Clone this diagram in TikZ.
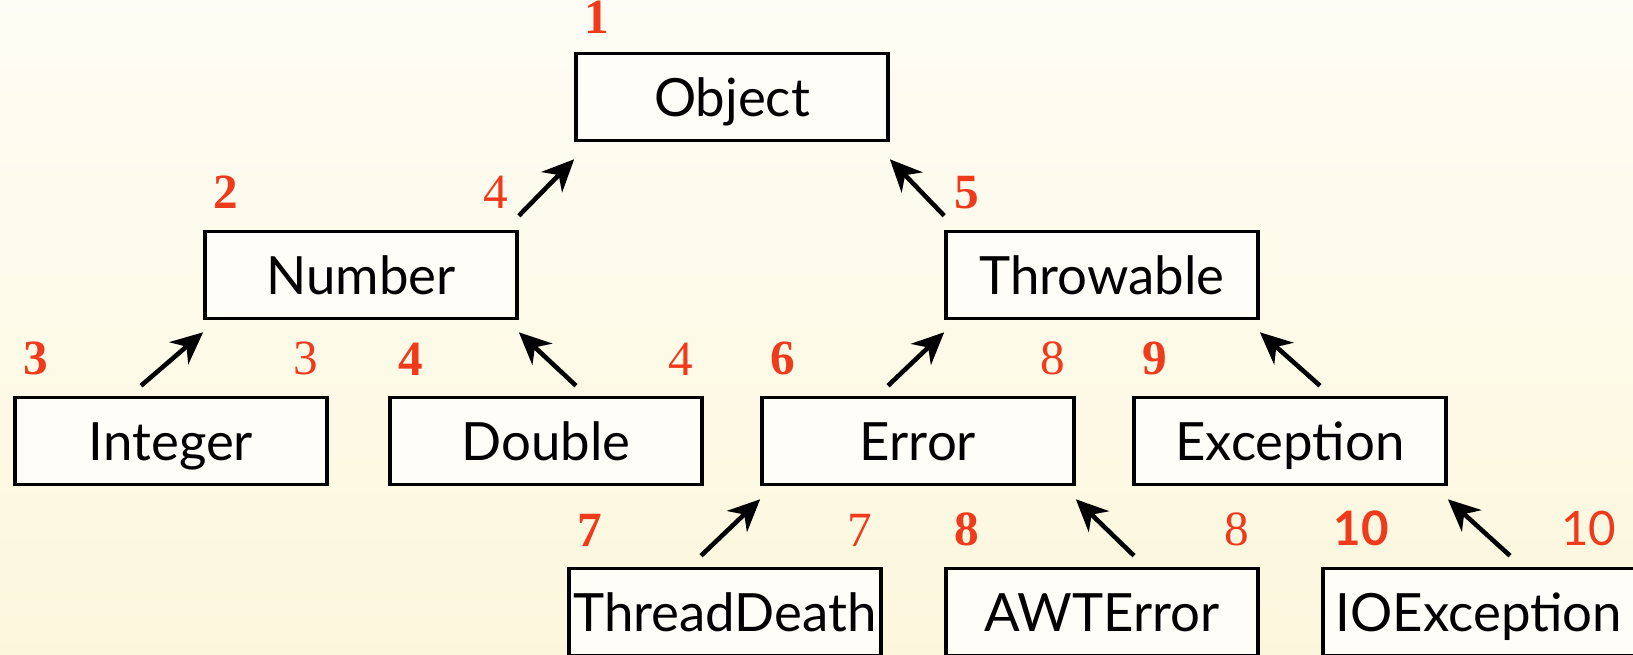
\documentclass[tikz,border=0pt]{standalone}
\usepackage{fontspec}
\setsansfont{Lato}
\newfontfamily\numfont{Liberation Serif}
\usepackage{tikz}
\usetikzlibrary{arrows.meta,positioning,calc}
\definecolor{MarkRed}{RGB}{240,58,28}
\definecolor{PaperTop}{RGB}{254,253,245}
\definecolor{PaperBottom}{RGB}{252,247,220}
\definecolor{BoxCream}{RGB}{255,253,248}

\begin{document}
\begin{tikzpicture}[x=0.01cm, y=-0.01cm,
    cls/.style={draw=black, line width=1pt, fill=BoxCream, minimum width=3.12cm, minimum height=0.87cm, inner sep=0pt, text height=0.5cm, text depth=0.12cm, font=\sffamily\fontsize{15}{18}\selectfont},
    up/.style={draw=black, line width=1.3pt, -{Stealth[length=3.2mm, width=2.9mm, inset=1mm]}},
    lnum/.style={text=MarkRed, inner sep=0pt, font=\numfont\bfseries\fontsize{14}{16}\selectfont},
    rnum/.style={text=MarkRed, inner sep=0pt, font=\numfont\fontsize{14}{16}\selectfont}
]
\useasboundingbox (0,0) rectangle (1633,655);
\fill[top color=PaperTop, bottom color=PaperBottom] (0,0) rectangle (1633,655);

% class boxes
\node[cls] (Object) at (732,97) {Object};
\node[cls] (Number) at (361,275) {Number};
\node[cls] (Throwable) at (1102,275) {Throwable};
\node[cls] (Integer) at (171,441) {Integer};
\node[cls] (Double) at (546,441) {Double};
\node[cls] (Error) at (918,441) {Error};
\node[cls] (Exception) at (1290,441) {Exception};
\node[cls] (ThreadDeath) at (725,612) {ThreadDeath};
\node[cls] (AWTError) at (1102,612) {AWTError};
\node[cls] (IOException) at (1479,612) {IOException};

% numbers
\node[lnum, above right=0.17cm and 0.1cm of Object.north west] (o1) {1};
\node[lnum, above right=0.2cm and 0.1cm of Number.north west] (n2) {2};
\node[rnum, above left=0.2cm and 0.1cm of Number.north east] (n4) {4};
\node[lnum, above right=0.2cm and 0.1cm of Throwable.north west] (t5) {5};
\node[lnum, above right=0.2cm and 0.1cm of Integer.north west] (i3) {3};
\node[rnum, above left=0.2cm and 0.1cm of Integer.north east] (i3r) {3};
\node[lnum, above right=0.2cm and 0.1cm of Double.north west] (d4) {4};
\node[rnum, above left=0.2cm and 0.1cm of Double.north east] (d4r) {4};
\node[lnum, above right=0.2cm and 0.1cm of Error.north west] (e6) {6};
\node[rnum, above left=0.2cm and 0.1cm of Error.north east] (e8) {8};
\node[lnum, above right=0.2cm and 0.1cm of Exception.north west] (x9) {9};
\node[lnum, above right=0.2cm and 0.1cm of ThreadDeath.north west] (td7) {7};
\node[rnum, above left=0.2cm and 0.1cm of ThreadDeath.north east] (td7r) {7};
\node[lnum, above right=0.2cm and 0.1cm of AWTError.north west] (aw8) {8};
\node[rnum, above left=0.2cm and 0.1cm of AWTError.north east] (aw8r) {8};
\node[lnum, font=\sffamily\bfseries\fontsize{13.5}{16}\selectfont, above right=0.2cm and 0.12cm of IOException.north west] (io10) {10};
\node[rnum, font=\sffamily\fontsize{13.5}{16}\selectfont, above left=0.2cm and 0.2cm of IOException.north east] (io10r) {10};

% inheritance arrows
\draw[up] ($(Number.north east)+(0,-14)$) -- ($(Object.south west)+(0,17)$);
\draw[up] ($(Throwable.north west)+(0,-14)$) -- ($(Object.south east)+(0,17)$);
\draw[up] ($(Integer.north)+(-30,-10)$) -- ($(Number.south west)+(0,12)$);
\draw[up] ($(Double.north)+(30,-10)$) -- ($(Number.south east)+(0,12)$);
\draw[up] ($(Error.north)+(-30,-10)$) -- ($(Throwable.south west)+(0,12)$);
\draw[up] ($(Exception.north)+(30,-10)$) -- ($(Throwable.south east)+(0,12)$);
\draw[up] ($(ThreadDeath.north)+(-24,-11)$) -- ($(Error.south west)+(0,13)$);
\draw[up] ($(AWTError.north)+(32,-11)$) -- ($(Error.south east)+(0,13)$);
\draw[up] ($(IOException.north)+(31,-11)$) -- ($(Exception.south east)+(0,13)$);
\end{tikzpicture}
\end{document}
